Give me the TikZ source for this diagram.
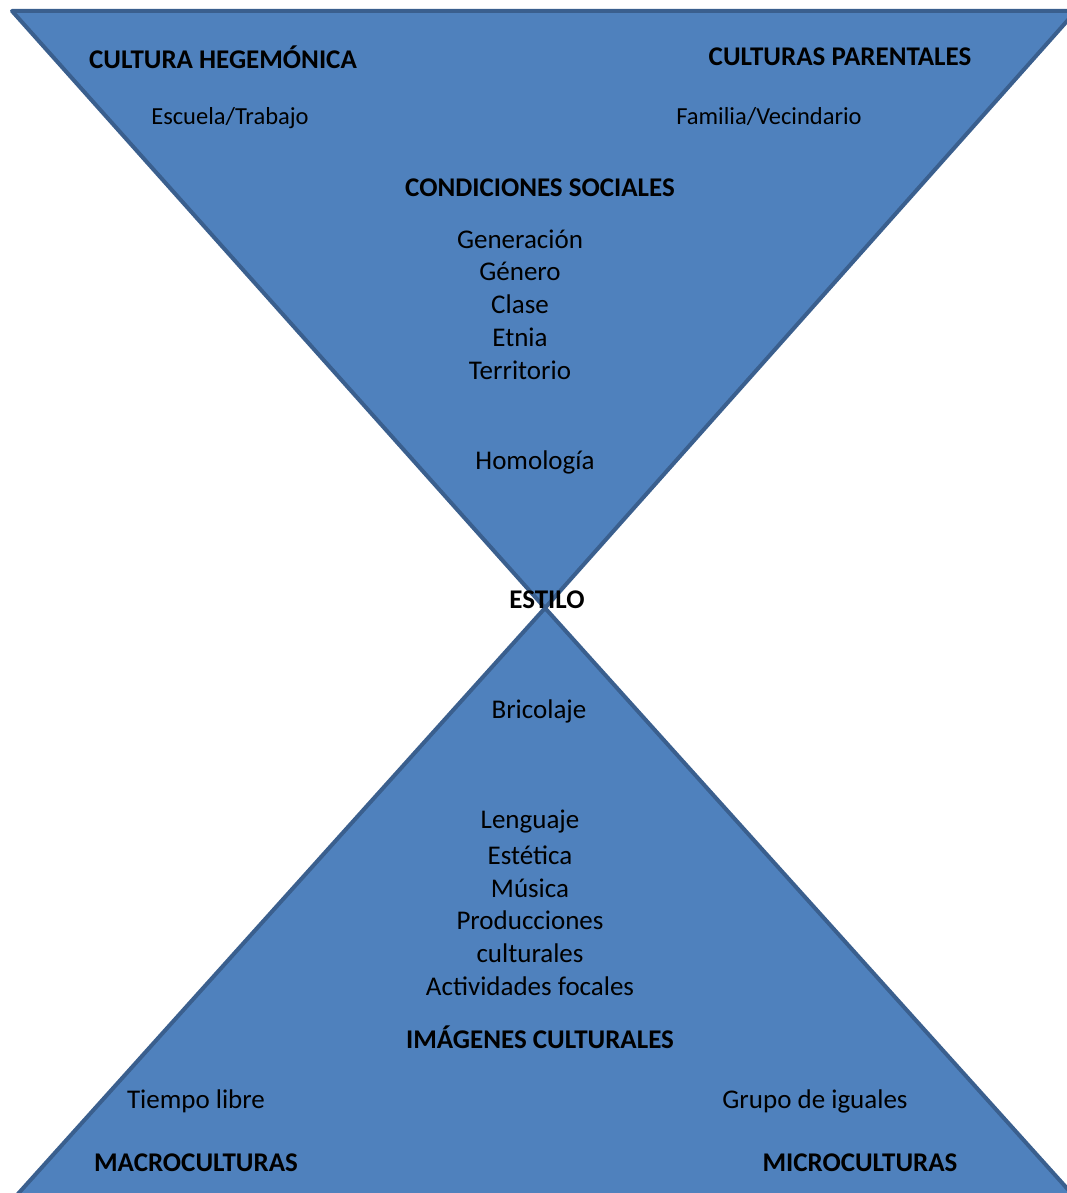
\documentclass[tikz,border=0pt]{standalone}
\usepackage{fontspec}
\setmainfont{Carlito}
\definecolor{tri}{HTML}{4F81BD}
\definecolor{triedge}{HTML}{3A5F8E}
\begin{document}
\begin{tikzpicture}[x=1pt,y=-1pt,
  head/.style={font=\fontsize{27}{32}\selectfont\bfseries, inner sep=0pt},
  item/.style={font=\fontsize{27}{33}\selectfont, inner sep=0pt, align=center},
  small/.style={font=\fontsize{24.5}{29}\selectfont, inner sep=0pt},
  tribox/.style={fill=tri, draw=triedge, line width=4pt, line join=round}]
\useasboundingbox (0,0) rectangle (1067,1193);
\begin{scope}
\clip (0,0) rectangle (1067,1193);
\draw[tribox] (12,11) -- (1076,11) -- (545,608) -- cycle;
\draw[tribox] (545,608) -- (8,1205) -- (1082,1205) -- cycle;
\end{scope}
\node[head] (ch) at (223,57) {CULTURA HEGEMÓNICA};
\node[head] (cp) at (840,57) {CULTURAS PARENTALES};
\node[small] (et) at (230,118) {Escuela/Trabajo};
\node[small] (fv) at (769,117) {Familia/Vecindario};
\node[head] (cs) at (540,188) {CONDICIONES SOCIALES};
\node[item] (gen) at (520,239) {Generación};
\node[item] (gne) at (520,271) {Género};
\node[item] (cla) at (520,304) {Clase};
\node[item] (etn) at (520,337) {Etnia};
\node[item] (ter) at (520,370) {Territorio};
\node[item] (hom) at (535,462) {Homología};
\node[head] (est) at (547,600) {ESTILO};
\node[item] (bri) at (539,711) {Bricolaje};
\node[item] (len) at (530,822) {Lenguaje};
\node[item] (ete) at (530,855) {Estética};
\node[item] (mus) at (530,888) {Música};
\node[item] (pro) at (530,920) {Producciones};
\node[item] (cul) at (530,953) {culturales};
\node[item] (act) at (530,986) {Actividades focales};
\node[head] (ic) at (540,1037) {IMÁGENES CULTURALES};
\node[item] (tl) at (196,1101) {Tiempo libre};
\node[item] (gi) at (815,1101) {Grupo de iguales};
\node[head] (mac) at (196,1163) {MACROCULTURAS};
\node[head] (mic) at (860,1163) {MICROCULTURAS};
\end{tikzpicture}
\end{document}
